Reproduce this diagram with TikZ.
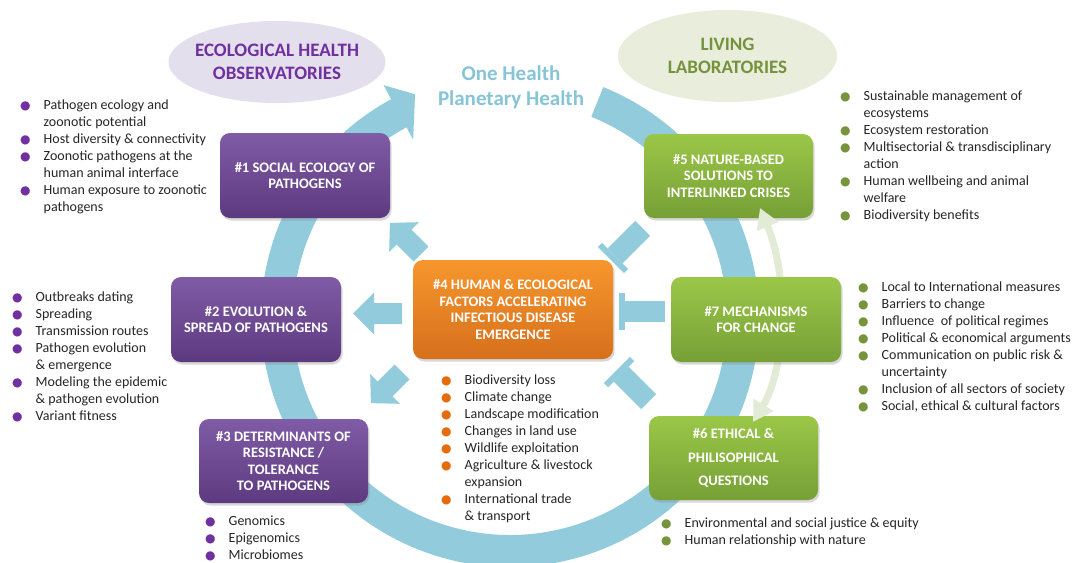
\documentclass[tikz,border=0pt]{standalone}
\usepackage{fontspec}
\setmainfont{Carlito}
\newfontfamily\symfont{DejaVu Sans}
\usetikzlibrary{shapes.geometric,arrows.meta,shadows}
\definecolor{ringblue}{RGB}{146,204,220}
\definecolor{palegrn}{RGB}{226,235,214}
\definecolor{purtop}{RGB}{128,91,166}
\definecolor{purbot}{RGB}{93,58,128}
\definecolor{orgtop}{RGB}{247,150,45}
\definecolor{orgbot}{RGB}{214,112,28}
\definecolor{grntop}{RGB}{155,199,72}
\definecolor{grnbot}{RGB}{118,160,54}
\definecolor{ellpur}{RGB}{228,223,236}
\definecolor{ellgrn}{RGB}{232,238,219}
\definecolor{purtext}{RGB}{112,48,160}
\definecolor{grntext}{RGB}{118,146,60}
\definecolor{ohblue}{RGB}{134,196,214}
\definecolor{dotpur}{RGB}{112,48,160}
\definecolor{dotorg}{RGB}{228,108,10}
\definecolor{dotgrn}{RGB}{119,147,60}
\definecolor{bodytext}{RGB}{38,38,38}
\newcommand{\bdot}[1]{\textcolor{#1}{\fontsize{12}{12}\symfont ●}}
\begin{document}
\begin{tikzpicture}[x=1pt,y=-1pt,
  box/.style={rounded corners=10pt, minimum width=170pt, minimum height=85pt,
    inner sep=2pt, align=center, text=white,
    font=\fontsize{14.5}{16.5}\selectfont\bfseries,
    drop shadow={shadow xshift=1.5pt, shadow yshift=-2.5pt, opacity=0.3}},
  purbox/.style={box, top color=purtop, bottom color=purbot},
  orgbox/.style={box, top color=orgtop, bottom color=orgbot},
  grnbox/.style={box, top color=grntop, bottom color=grnbot},
  ell/.style={ellipse, inner sep=0pt},
  elltext/.style={align=center, font=\fontsize{19}{22.5}\selectfont\bfseries},
  blist/.style={anchor=base west, inner sep=0pt, text=bodytext,
    font=\fontsize{14}{17}\selectfont},
  blockfill/.style={fill=ringblue}
]
\useasboundingbox (0,0) rectangle (1075,562);
\fill[white] (0,0) rectangle (1075,562);

% main ring
\begin{scope}[shift={(510,318)}]
\fill[ringblue] (-68:249) arc[start angle=-68, end angle=241.5, radius=249]
  -- (241.5:265) -- (247:243) -- (241.5:203) -- (241.5:217)
  arc[start angle=241.5, end angle=-68, radius=217] -- cycle;
\end{scope}

% block arrows from #4
\begin{scope}[shift={(402,313.5)}, rotate=180]
\fill[blockfill] (0,-10.5) -- (28,-10.5) -- (28,-21) -- (49,0) -- (28,21) -- (28,10.5) -- (0,10.5) -- cycle;
\end{scope}
\begin{scope}[shift={(421,254)}, rotate=135]
\fill[blockfill] (0,-10.5) -- (24,-10.5) -- (24,-21) -- (44,0) -- (24,21) -- (24,10.5) -- (0,10.5) -- cycle;
\end{scope}
\begin{scope}[shift={(402,372)}, rotate=225]
\fill[blockfill] (0,-10.5) -- (24,-10.5) -- (24,-21) -- (44,0) -- (24,21) -- (24,10.5) -- (0,10.5) -- cycle;
\end{scope}

% blunt (T) arrows towards #4
\begin{scope}[shift={(613,258)}, rotate=45]
\fill[blockfill] (-3,-18.5) rectangle (3,18.5);
\fill[blockfill] (3,-10.5) rectangle (42,10.5);
\end{scope}
\begin{scope}[shift={(622,311.5)}]
\fill[blockfill] (-3,-18.5) rectangle (3,18.5);
\fill[blockfill] (3,-10.5) rectangle (43,10.5);
\end{scope}
\begin{scope}[shift={(619,372)}, rotate=-45]
\fill[blockfill] (-3,-18.5) rectangle (3,18.5);
\fill[blockfill] (3,-10.5) rectangle (42,10.5);
\end{scope}

% ellipses
\node[ell, fill=ellpur, minimum width=217pt, minimum height=82pt] (e1) at (277,62) {};
\node[elltext, text=purtext] (e1t) at (e1.center) {ECOLOGICAL HEALTH\\OBSERVATORIES};
\node[ell, fill=ellgrn, minimum width=219pt, minimum height=92pt] (e2) at (727.5,56) {};
\node[elltext, text=grntext] (e2t) at (e2.center) {LIVING\\LABORATORIES};

\node[align=center, text=ohblue, font=\fontsize{21}{25}\selectfont\bfseries] (oh) at (511,87) {One Health\\Planetary Health};

% boxes
\node[purbox] (n1) at (305,175.5) {\#1 SOCIAL ECOLOGY OF\\PATHOGENS};
\node[purbox] (n2) at (256,319.5) {\#2 EVOLUTION \&\\SPREAD OF PATHOGENS};
\node[purbox, minimum width=169pt, minimum height=84pt] (n3) at (283.5,461) {\#3 DETERMINANTS OF\\RESISTANCE /\\TOLERANCE\\TO PATHOGENS};
\node[orgbox, minimum width=200pt, minimum height=99pt] (n4) at (513,309.5) {\#4 HUMAN \& ECOLOGICAL\\FACTORS ACCELERATING\\INFECTIOUS DISEASE\\EMERGENCE};
\node[grnbox, minimum width=169pt, minimum height=84pt] (n5) at (728.5,176) {\#5 NATURE-BASED\\SOLUTIONS TO\\INTERLINKED CRISES};
\node[grnbox, minimum width=169pt, minimum height=84pt, font=\fontsize{14.5}{23.5}\selectfont\bfseries] (n6) at (733.5,458) {\#6 ETHICAL \&\\PHILISOPHICAL\\QUESTIONS};

% pale double arrow between #6 and #5 (behind #7)
\coordinate (g5) at (760,208);
\coordinate (g6) at (753,422);
\draw[palegrn, line width=7pt, {Triangle[width=22pt,length=20pt]}-{Triangle[width=22pt,length=20pt]}]
  (g6) .. controls (785,370) and (790,280) .. (g5);

\node[grnbox] (n7) at (756,319.5) {\#7 MECHANISMS\\FOR CHANGE};

% bullet lists
\node[blist] (l1) at (20,109) {\begin{tabular}[t]{@{}l@{\hspace{13pt}}l@{}}
\bdot{dotpur} & Pathogen ecology and\\
 & zoonotic potential\\
\bdot{dotpur} & Host diversity \& connectivity\\
\bdot{dotpur} & Zoonotic pathogens at the\\
 & human animal interface\\
\bdot{dotpur} & Human exposure to zoonotic\\
 & pathogens
\end{tabular}};
\node[blist] (l2) at (12,301) {\begin{tabular}[t]{@{}l@{\hspace{13pt}}l@{}}
\bdot{dotpur} & Outbreaks dating\\
\bdot{dotpur} & Spreading\\
\bdot{dotpur} & Transmission routes\\
\bdot{dotpur} & Pathogen evolution\\
 & \& emergence\\
\bdot{dotpur} & Modeling the epidemic\\
 & \& pathogen evolution\\
\bdot{dotpur} & Variant fitness
\end{tabular}};
\node[blist] (l3) at (205,525) {\begin{tabular}[t]{@{}l@{\hspace{13pt}}l@{}}
\bdot{dotpur} & Genomics\\
\bdot{dotpur} & Epigenomics\\
\bdot{dotpur} & Microbiomes
\end{tabular}};
\node[blist] (l4) at (441,384) {\begin{tabular}[t]{@{}l@{\hspace{13pt}}l@{}}
\bdot{dotorg} & Biodiversity loss\\
\bdot{dotorg} & Climate change\\
\bdot{dotorg} & Landscape modification\\
\bdot{dotorg} & Changes in land use\\
\bdot{dotorg} & Wildlife exploitation\\
\bdot{dotorg} & Agriculture \& livestock\\
 & expansion\\
\bdot{dotorg} & International trade\\
 & \& transport
\end{tabular}};
\node[blist] (l5) at (840,100) {\begin{tabular}[t]{@{}l@{\hspace{13pt}}l@{}}
\bdot{dotgrn} & Sustainable management of\\
 & ecosystems\\
\bdot{dotgrn} & Ecosystem restoration\\
\bdot{dotgrn} & Multisectorial \& transdisciplinary\\
 & action\\
\bdot{dotgrn} & Human wellbeing and animal\\
 & welfare\\
\bdot{dotgrn} & Biodiversity benefits
\end{tabular}};
\node[blist] (l6) at (858,291) {\begin{tabular}[t]{@{}l@{\hspace{13pt}}l@{}}
\bdot{dotgrn} & Local to International measures\\
\bdot{dotgrn} & Barriers to change\\
\bdot{dotgrn} & Influence\ \ of political regimes\\
\bdot{dotgrn} & Political \& economical arguments\\
\bdot{dotgrn} & Communication on public risk \&\\
 & uncertainty\\
\bdot{dotgrn} & Inclusion of all sectors of society\\
\bdot{dotgrn} & Social, ethical \& cultural factors
\end{tabular}};
\node[blist] (l7) at (661,527) {\begin{tabular}[t]{@{}l@{\hspace{13pt}}l@{}}
\bdot{dotgrn} & Environmental and social justice \& equity\\
\bdot{dotgrn} & Human relationship with nature
\end{tabular}};
\end{tikzpicture}
\end{document}
